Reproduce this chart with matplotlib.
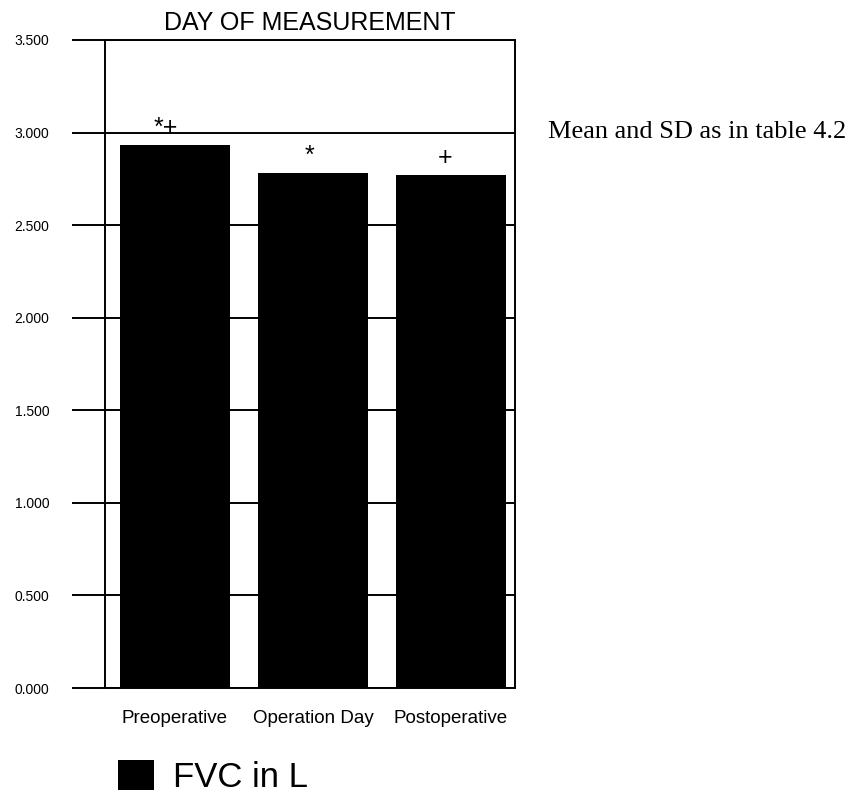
import numpy as np
import matplotlib.pyplot as plt

# data
days = ["Preoperative", "Operation Day", "Postoperative"]
fvc_mean = [2.935, 2.782, 2.772]
sig_marks = ["*+", "*", "+"]
yticks = [0.0, 0.5, 1.0, 1.5, 2.0, 2.5, 3.0, 3.5]

plt.rcParams['font.family'] = ['Liberation Sans', 'DejaVu Sans']

fig = plt.figure(figsize=(8.65, 7.93), dpi=100)
ax = fig.add_axes([0.1214, 0.1324, 0.474, 0.8172])

x = np.arange(len(days))
bars = ax.bar(x, fvc_mean, width=0.8, color="black", zorder=3, label="FVC in L")

# significance markers above bars
offs = [-9, -3, -6]
for xi, v, m, dx in zip(x, fvc_mean, sig_marks, offs):
    ax.annotate(m, xy=(xi, v), xytext=(dx * 0.72, 12), textcoords="offset points",
                ha="center", va="center", fontsize=18, zorder=4)

ax.set_xlim(-0.507, 2.465)
ax.set_ylim(0, 3.5)
ax.set_yticks(yticks)
ax.set_yticklabels(["{:.3f}".format(t) for t in yticks], fontsize=10)
ax.set_xticks(x)
ax.set_xticklabels(days, fontsize=13.5)

ax.tick_params(axis="y", direction="out", length=24, width=1.4, pad=16)
ax.tick_params(axis="x", length=0, pad=16)
ax.grid(axis="y", color="black", linewidth=1.4, zorder=1)
ax.set_axisbelow(True)
for s in ax.spines.values():
    s.set_linewidth(1.4)

ax.set_title("DAY OF MEASUREMENT", fontsize=18, pad=7)

leg = ax.legend(loc="upper left", bbox_to_anchor=(0.136, 0.041), bbox_transform=fig.transFigure,
                frameon=False, fontsize=25, handlelength=1.05, handleheight=0.95,
                handletextpad=0.55, borderaxespad=0, borderpad=0)

fig.text(0.634, 0.833, "Mean and SD as in table 4.2", family="Liberation Serif",
         fontsize=19, ha="left", va="center")

fig.savefig("out.png", dpi=100)
